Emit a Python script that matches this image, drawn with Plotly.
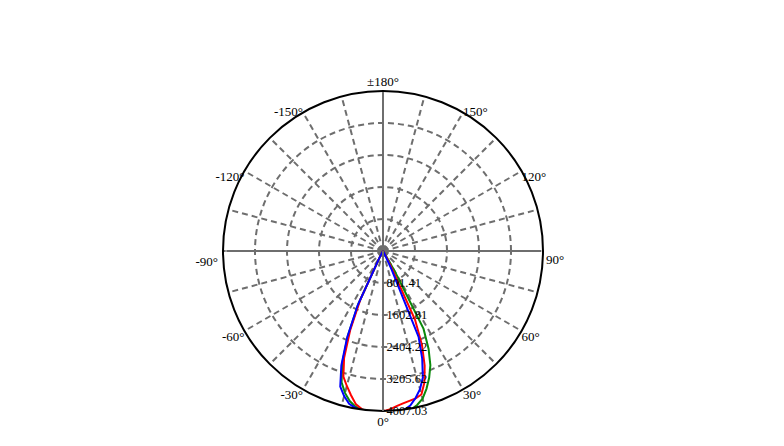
import plotly.graph_objects as go

# polar angles (degrees from nadir) for one half-plane
gamma = [0, 2.5, 5, 7.5, 10, 12.5, 15, 17.5, 20, 22.5, 25, 27.5, 30, 32.5, 35, 40, 50, 60, 90]

# intensity values (cd) — right half (positive angles) and left half (negative angles)
green_right = [4007, 4020, 4040, 4060, 4030, 3950, 3830, 3620, 3380, 3100, 2700, 2200, 600, 80, 20, 0, 0, 0, 0]
green_left = [4007, 4015, 4025, 4020, 3960, 3850, 3680, 3450, 2980, 2300, 1450, 200, 40, 10, 5, 0, 0, 0, 0]
red_right = [4000, 3970, 3900, 3850, 3810, 3780, 3720, 3450, 3050, 2550, 1900, 400, 60, 10, 5, 0, 0, 0, 0]
red_left = [4007, 4015, 4025, 4000, 3900, 3700, 3500, 3300, 2850, 2150, 1350, 200, 40, 10, 5, 0, 0, 0, 0]
blue_right = [4007, 4015, 4030, 4020, 3930, 3770, 3580, 3320, 2870, 2330, 500, 80, 20, 10, 5, 0, 0, 0, 0]
blue_left = [4007, 4015, 4030, 4035, 3990, 3920, 3760, 3560, 3050, 2350, 1500, 200, 40, 10, 5, 0, 0, 0, 0]

r_max = 4007.03
r_ticks = [801.406, 1602.812, 2404.218, 3205.624, 4007.03]
r_ticktext = ["801.41", "1602.81", "2404.22", "3205.62", "4007.03"]

ang_grid = list(range(0, 360, 15))
ang_label_theta = [0, 30, 60, 90, 120, 150, 180, -150, -120, -90, -60, -30]
ang_label_text = ["0°", "30°", "60°", "90°", "120°", "150°", "±180°", "-150°", "-120°", "-90°", "-60°", "-30°"]


def full(left, right):
    th = [-g for g in reversed(gamma)] + gamma[1:]
    rr = list(reversed(left)) + right[1:]
    return th, rr


fig = go.Figure()

# solid main axes lines (0/180 and 90/-90)
fig.add_trace(go.Scatterpolar(
    theta=[0, 180, None, 90, 270], r=[r_max, r_max, None, r_max, r_max],
    mode="lines", line=dict(color="#6e6e6e", width=2), hoverinfo="skip", showlegend=False))

for left, right, col in [(green_left, green_right, "#0a8a0a"),
                         (red_left, red_right, "#ff0000"),
                         (blue_left, blue_right, "#0000ff")]:
    th, rr = full(left, right)
    fig.add_trace(go.Scatterpolar(theta=th, r=rr, mode="lines",
                                  line=dict(color=col, width=2),
                                  cliponaxis=False, showlegend=False))

# angular labels anchored at the outer circle (invisible markers give the text offset)
label_pos = ["bottom center", "bottom right", "bottom right", "bottom right", "bottom right", "middle right",
             "top center", "middle left", "bottom left", "bottom left", "bottom left", "bottom left"]
label_pad = [6.4, 0, 0, 3.2, 0, 0, 1.6, 0, 0, 6.4, 0, 0]
fig.add_trace(go.Scatterpolar(
    theta=ang_label_theta, r=[r_max] * len(ang_label_theta), mode="markers+text",
    text=ang_label_text, textposition=label_pos,
    marker=dict(size=label_pad, color="rgba(0,0,0,0)"),
    textfont=dict(family="Liberation Serif", size=13, color="black"),
    cliponaxis=False, hoverinfo="skip", showlegend=False))

# page body has an 8px margin, so the figure origin sits at (8, 8) in the window
cx, cy, R = 375, 243, 160
W, H = 784, 446
fig.update_layout(
    width=W, height=H,
    margin=dict(l=0, r=0, t=0, b=0),
    paper_bgcolor="white",
    showlegend=False,
    polar=dict(
        domain=dict(x=[(cx - R) / W, (cx + R) / W], y=[(H - cy - R) / H, (H - cy + R) / H]),
        bgcolor="white",
        angularaxis=dict(
            rotation=-90, direction="counterclockwise",
            tickmode="array", tickvals=ang_grid, showticklabels=False,
            showline=True, linecolor="black", linewidth=2,
            showgrid=True, gridcolor="#6e6e6e", gridwidth=2, griddash="6px,4px",
            ticks="",
        ),
        radialaxis=dict(
            range=[0, r_max], angle=-90, side="counterclockwise",
            tickmode="array", tickvals=r_ticks, ticktext=r_ticktext,
            showline=True, linecolor="#6e6e6e", linewidth=2,
            showgrid=True, gridcolor="#6e6e6e", gridwidth=2, griddash="6px,4px",
            ticks="", tickangle=-90,
            tickfont=dict(family="Liberation Serif", size=12.5, color="black"),
        ),
    ),
)

fig.write_html("out.html")
